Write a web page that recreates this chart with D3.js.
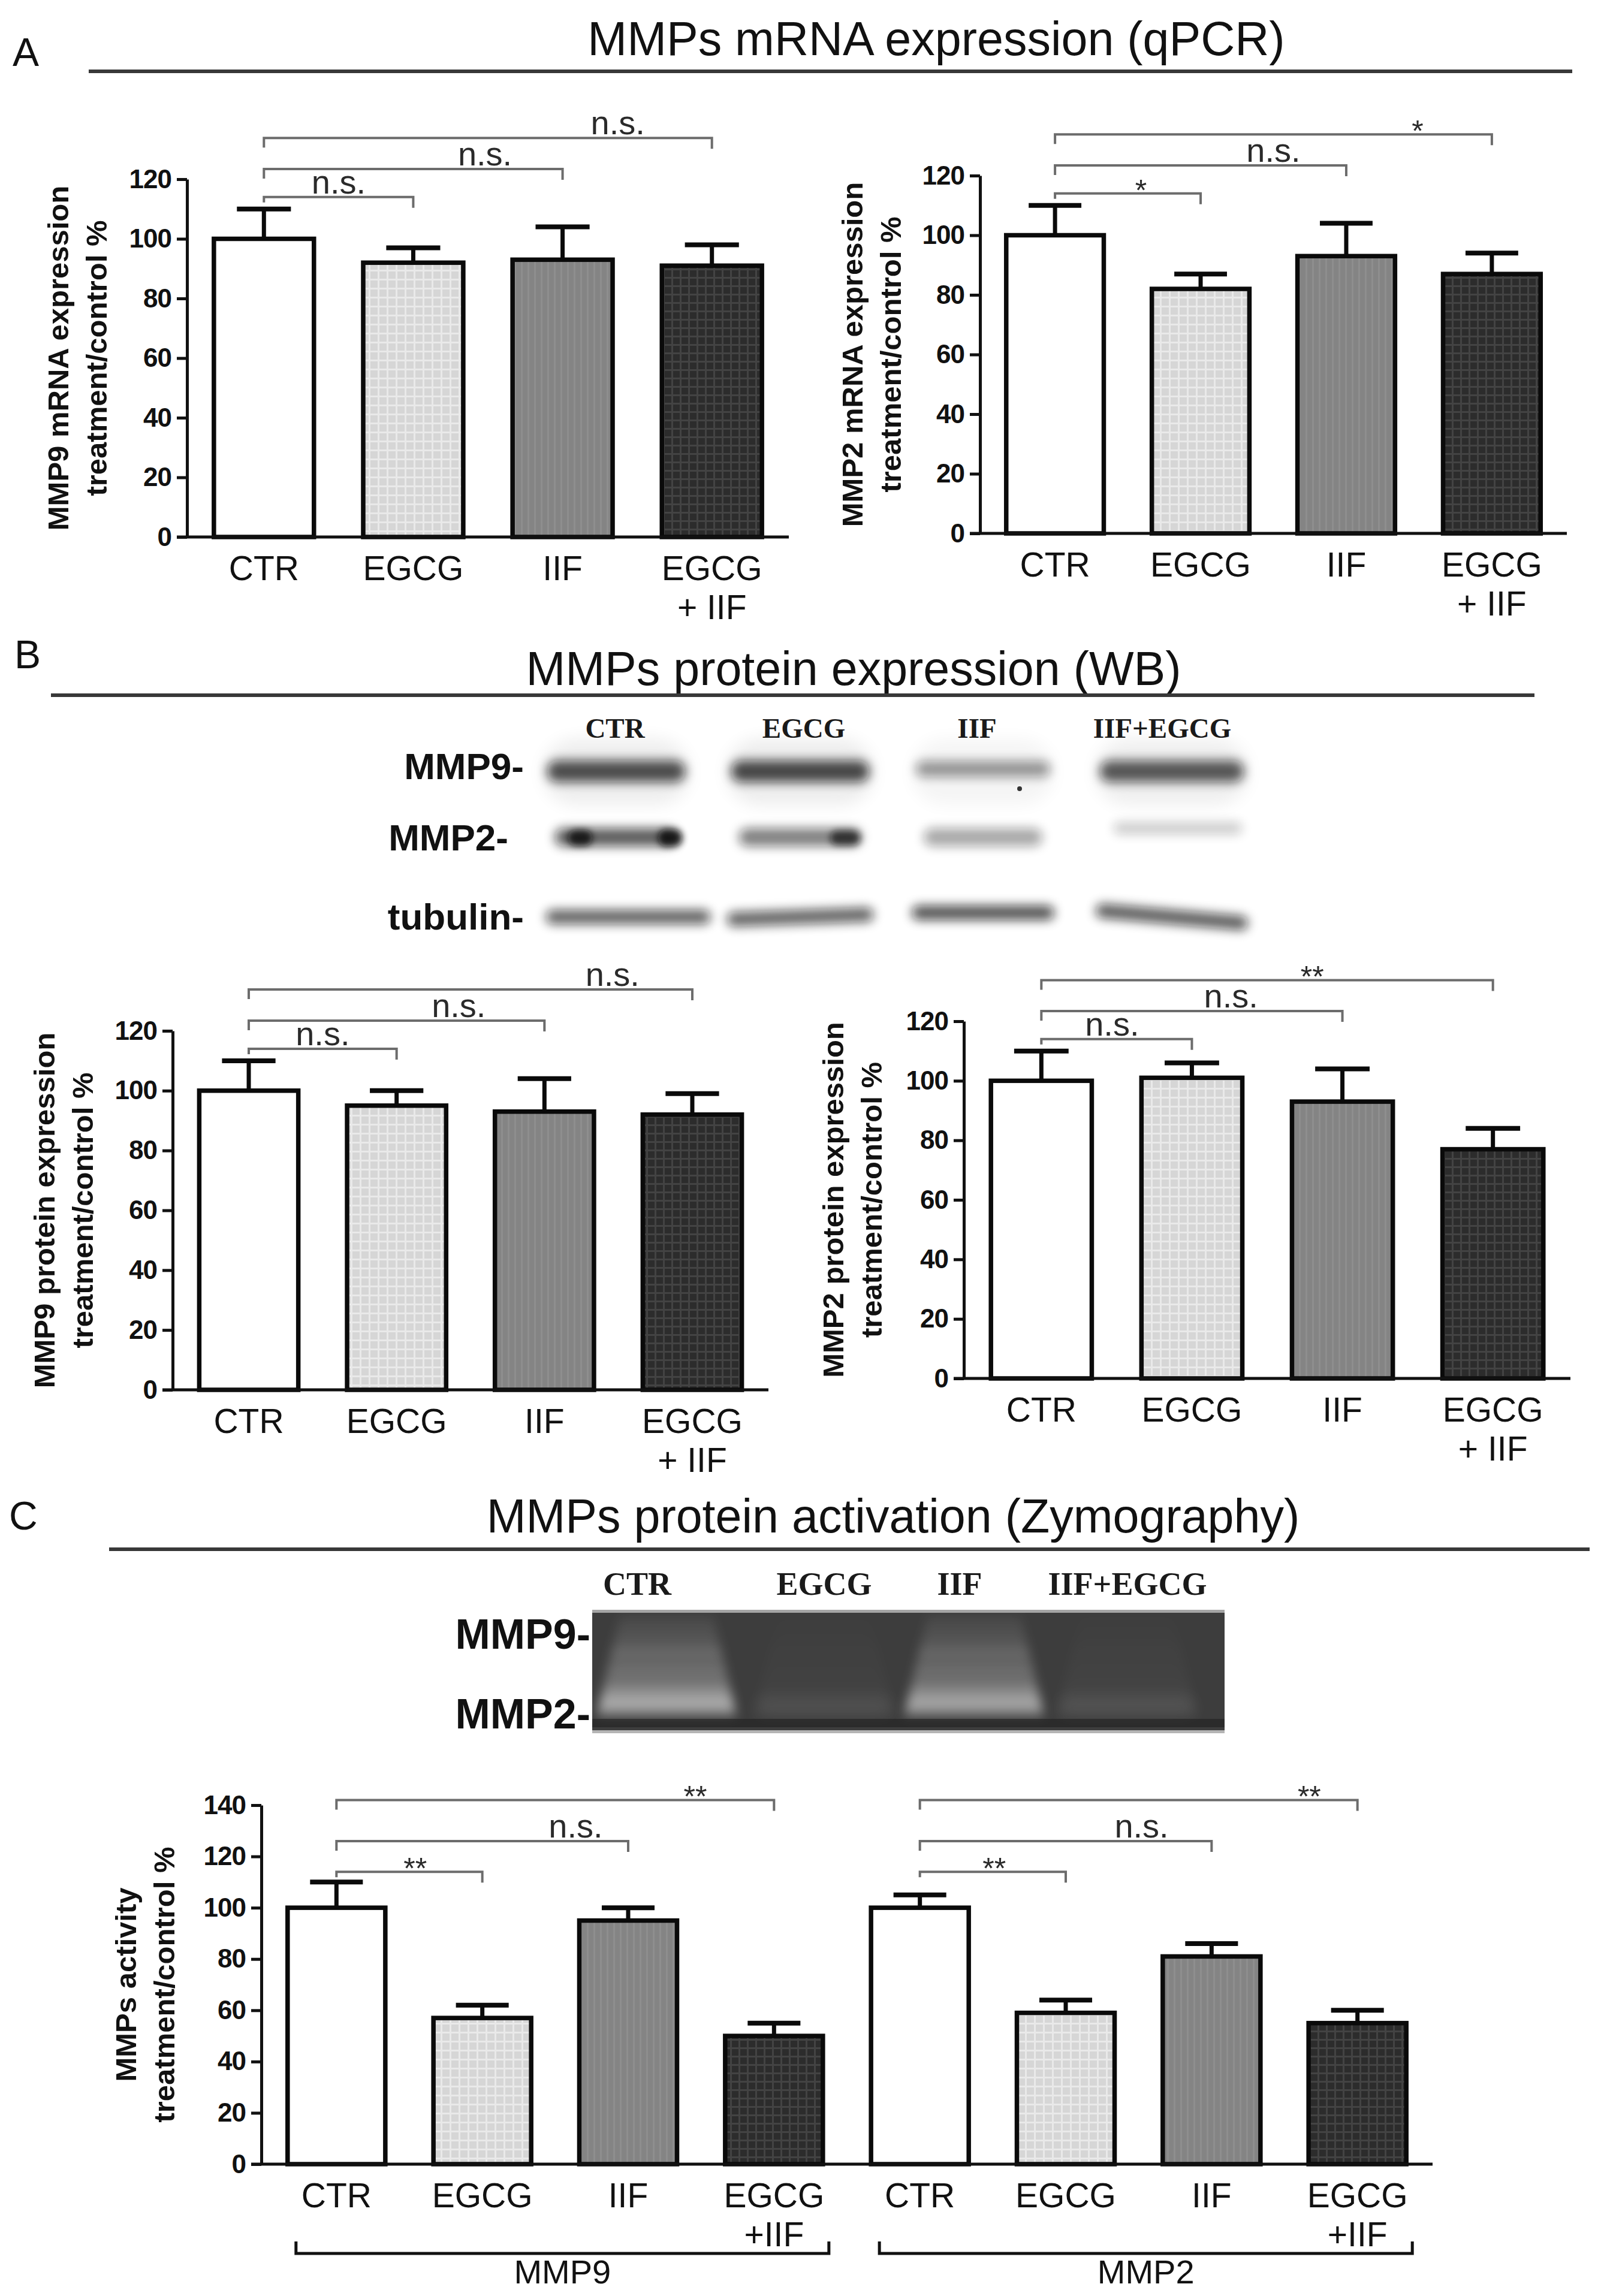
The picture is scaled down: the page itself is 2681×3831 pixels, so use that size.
<!DOCTYPE html>
<html><head><meta charset="utf-8">
<script src="https://cdn.jsdelivr.net/npm/d3@7"></script>
<style>html,body{margin:0;padding:0;background:#fff;} svg{display:block;}</style>
</head><body>
<script>
// ---------------- DATA ----------------
const categories = ["CTR", "EGCG", "IIF", "EGCG+IIF"];
const xLabelsAB = [["CTR"], ["EGCG"], ["IIF"], ["EGCG", "+ IIF"]];
const xLabelsC = [["CTR"], ["EGCG"], ["IIF"], ["EGCG", "+IIF"]];
const ticks120 = [0, 20, 40, 60, 80, 100, 120];
const ticks140 = [0, 20, 40, 60, 80, 100, 120, 140];

const mmp9mRNA = [100, 92, 93, 91];
const mmp9mRNAErr = [10, 5, 11, 7];
const mmp2mRNA = [100, 82, 93, 87];
const mmp2mRNAErr = [10, 5, 11, 7];
const mmp9Prot = [100, 95, 93, 92];
const mmp9ProtErr = [10, 5, 11, 7];
const mmp2Prot = [100, 101, 93, 77];
const mmp2ProtErr = [10, 5, 11, 7];
const mmp9Act = [100, 57, 95, 50];
const mmp9ActErr = [10, 5, 5, 5];
const mmp2Act = [100, 59, 81, 55];
const mmp2ActErr = [5, 5, 5, 5];

// significance vs CTR (EGCG, IIF, EGCG+IIF)
const sigA9 = ["n.s.", "n.s.", "n.s."];
const sigA2 = ["*", "n.s.", "*"];
const sigB9 = ["n.s.", "n.s.", "n.s."];
const sigB2 = ["n.s.", "n.s.", "**"];
const sigC9 = ["**", "n.s.", "**"];
const sigC2 = ["**", "n.s.", "**"];
const bracketLevels120 = [114, 123.4, 133.8];
const bracketLevels140 = [114, 126, 142];

const panelTitles = ["MMPs mRNA expression (qPCR)", "MMPs protein expression (WB)", "MMPs protein activation (Zymography)"];
const laneLabels = ["CTR", "EGCG", "IIF", "IIF+EGCG"];
const wbMMP9 = [0.85, 0.88, 0.5, 0.8];
const wbMMP2 = [0.8, 0.62, 0.42, 0.25];
const wbTubulin = [0.72, 0.72, 0.8, 0.75];
const zymoActivity = [0.95, 0.08, 0.9, 0.1];
const groupNames = ["MMP9", "MMP2"];

// ---------------- LAYOUT ----------------
const W = 2681, H = 3831;
const FONT = "'Liberation Sans', Arial, Helvetica, sans-serif";
const SERIF = "'Liberation Serif', 'Times New Roman', serif";
const barFills = ["#ffffff", "url(#pEGCG)", "url(#pIIF)", "url(#pMIX)"];

const svg = d3.select("body").append("svg").attr("width", W).attr("height", H)
  .attr("viewBox", `0 0 ${W} ${H}`).style("background", "#fff");
svg.append("rect").attr("width", W).attr("height", H).attr("fill", "#fff");

const defs = svg.append("defs");
function pattern(id, size, base, line, lw, grid) {
  const p = defs.append("pattern").attr("id", id).attr("patternUnits", "userSpaceOnUse")
    .attr("width", size).attr("height", size);
  p.append("rect").attr("width", size).attr("height", size).attr("fill", base);
  p.append("rect").attr("x", 0).attr("y", 0).attr("width", lw).attr("height", size).attr("fill", line);
  if (grid) p.append("rect").attr("x", 0).attr("y", 0).attr("width", size).attr("height", lw).attr("fill", line);
}
pattern("pEGCG", 15, "#d6d6d6", "#e9e9e9", 3, true);
pattern("pIIF", 11, "#848484", "#8e8e8e", 3, false);
pattern("pMIX", 14, "#2c2c2c", "#434343", 3, true);

function blurFilter(id, sd) {
  defs.append("filter").attr("id", id).attr("x", "-30%").attr("y", "-200%")
    .attr("width", "160%").attr("height", "500%")
    .append("feGaussianBlur").attr("stdDeviation", sd);
}
blurFilter("blur6", 6);
blurFilter("blur9", 9);
blurFilter("blur14", 14);

// ---------------- PANEL HEADERS ----------------
const headers = [
  {letter: "A", lx: 21, ly: 110, title: panelTitles[0], tx: 1562, ty: 92, line: [148, 2623, 119]},
  {letter: "B", lx: 24, ly: 1115, title: panelTitles[1], tx: 1424, ty: 1143, line: [85, 2560, 1160]},
  {letter: "C", lx: 15, ly: 2552, title: panelTitles[2], tx: 1490, ty: 2557, line: [182, 2652, 2585]}
];
headers.forEach(h => {
  svg.append("text").attr("x", h.lx).attr("y", h.ly).text(h.letter)
    .attr("font-family", FONT).attr("font-size", 66).attr("fill", "#111");
  svg.append("text").attr("x", h.tx).attr("y", h.ty).text(h.title).attr("text-anchor", "middle")
    .attr("font-family", FONT).attr("font-size", 79).attr("fill", "#111");
  svg.append("line").attr("x1", h.line[0]).attr("x2", h.line[1]).attr("y1", h.line[2]).attr("y2", h.line[2])
    .attr("stroke", "#383838").attr("stroke-width", 6);
});

// ---------------- BAR CHARTS ----------------
function drawChart(cfg) {
  const g = svg.append("g");
  const n = cfg.values.length;
  const x = d3.scaleBand().domain(d3.range(n)).range([cfg.x0, cfg.x1]).paddingInner(0.33).paddingOuter(0.18);
  const y = d3.scaleLinear().domain([0, cfg.ymax]).range([cfg.y0, cfg.yTop]);
  const bw = x.bandwidth();
  const cx = i => x(i) + bw / 2;

  g.selectAll("rect.bar").data(cfg.values).join("rect").attr("class", "bar")
    .attr("x", (d, i) => x(i)).attr("y", d => y(d))
    .attr("width", bw).attr("height", d => y(0) - y(d))
    .attr("fill", (d, i) => barFills[i % 4]).attr("stroke", "#0a0a0a").attr("stroke-width", 7.5);

  const eg = g.append("g").attr("stroke", "#0a0a0a");
  cfg.values.forEach((v, i) => {
    const top = y(v + cfg.errors[i]);
    eg.append("line").attr("x1", cx(i)).attr("x2", cx(i)).attr("y1", y(v)).attr("y2", top).attr("stroke-width", 7);
    eg.append("line").attr("x1", cx(i) - bw * 0.27).attr("x2", cx(i) + bw * 0.27)
      .attr("y1", top).attr("y2", top).attr("stroke-width", 8);
  });

  const ax = d3.axisLeft(y).tickValues(cfg.ticks).tickSize(17).tickSizeOuter(0).tickPadding(9);
  g.append("g").attr("transform", `translate(${cfg.x0},0)`).call(ax)
    .attr("font-family", FONT).attr("font-size", 44).attr("font-weight", "bold")
    .call(s => {
      s.select(".domain").attr("stroke", "#111").attr("stroke-width", 5);
      s.selectAll(".tick line").attr("stroke", "#111").attr("stroke-width", 5);
      s.selectAll(".tick text").attr("fill", "#111").attr("letter-spacing", -1);
    });
  g.append("line").attr("x1", cfg.x0 - 17).attr("x2", cfg.x1).attr("y1", y(0)).attr("y2", y(0))
    .attr("stroke", "#111").attr("stroke-width", 5);

  cfg.values.forEach((v, i) => {
    const lines = cfg.xLabels[i % 4];
    lines.forEach((s, k) => {
      g.append("text").attr("x", cx(i)).attr("y", y(0) + 72 + k * 65).text(s)
        .attr("text-anchor", "middle").attr("font-family", FONT).attr("font-size", 57).attr("fill", "#111");
    });
  });

  const yc = (y(0) + y(cfg.ymax)) / 2;
  cfg.yLabel.forEach((t, k) => {
    g.append("text").attr("transform", `translate(${cfg.labX[k]},${yc}) rotate(-90)`)
      .attr("dy", "0.36em").attr("text-anchor", "middle").text(t)
      .attr("font-family", FONT).attr("font-size", 49).attr("font-weight", "bold").attr("fill", "#111");
  });

  cfg.brackets.forEach((b, j) => {
    const xl = cx(b.from), xr = cx(b.to), yb = y(b.level);
    const legL = j % 3 === 0 ? 9 : 16;
    g.append("path").attr("d", `M${xl},${yb + legL}V${yb}H${xr}V${yb + 18}`)
      .attr("fill", "none").attr("stroke", "#6c6c6c").attr("stroke-width", 4);
    const tx = xl + (xr - xl) * cfg.labelFrac[j];
    const isStar = b.label.indexOf("*") >= 0;
    g.append("text").attr("x", tx).attr("y", isStar ? yb + 12 : yb - 6).text(b.label)
      .attr("text-anchor", "middle").attr("font-family", FONT)
      .attr("font-size", isStar ? 50 : 56).attr("fill", "#2a2a2a");
  });

  return {x, y, bw};
}

function brackets(sig, levels, offset) {
  return sig.map((s, k) => ({from: offset, to: offset + k + 1, level: levels[k], label: s}));
}

drawChart({values: mmp9mRNA, errors: mmp9mRNAErr, x0: 312, x1: 1316, y0: 896, yTop: 299, ymax: 120,
  ticks: ticks120, xLabels: xLabelsAB, yLabel: ["MMP9 mRNA expression", "treatment/control %"], labX: [96, 160],
  brackets: brackets(sigA9, bracketLevels120, 0), labelFrac: [0.5, 0.74, 0.79]});
drawChart({values: mmp2mRNA, errors: mmp2mRNAErr, x0: 1635, x1: 2614, y0: 890, yTop: 293, ymax: 120,
  ticks: ticks120, xLabels: xLabelsAB, yLabel: ["MMP2 mRNA expression", "treatment/control %"], labX: [1421, 1485],
  brackets: brackets(sigA2, bracketLevels120, 0), labelFrac: [0.59, 0.75, 0.83]});
drawChart({values: mmp9Prot, errors: mmp9ProtErr, x0: 288, x1: 1282, y0: 2319, yTop: 1720, ymax: 120,
  ticks: ticks120, xLabels: xLabelsAB, yLabel: ["MMP9 protein expression", "treatment/control %"], labX: [73, 137],
  brackets: brackets(sigB9, bracketLevels120, 0), labelFrac: [0.5, 0.71, 0.82]});
drawChart({values: mmp2Prot, errors: mmp2ProtErr, x0: 1608, x1: 2620, y0: 2300, yTop: 1704, ymax: 120,
  ticks: ticks120, xLabels: xLabelsAB, yLabel: ["MMP2 protein expression", "treatment/control %"], labX: [1389, 1453],
  brackets: brackets(sigB2, bracketLevels120, 0), labelFrac: [0.47, 0.63, 0.6]});
const cChart = drawChart({values: mmp9Act.concat(mmp2Act), errors: mmp9ActErr.concat(mmp2ActErr),
  x0: 436, x1: 2390, y0: 3611, yTop: 3012, ymax: 140,
  ticks: ticks140, xLabels: xLabelsC, yLabel: ["MMPs activity", "treatment/control %"], labX: [209, 273],
  brackets: brackets(sigC9, bracketLevels140, 0).concat(brackets(sigC2, bracketLevels140, 4)),
  labelFrac: [0.54, 0.82, 0.82, 0.51, 0.76, 0.89]});

groupNames.forEach((name, gi) => {
  const xs = cChart.x(gi * 4) + 14, xe = cChart.x(gi * 4 + 3) + cChart.bw + 10, yb = 3760;
  svg.append("path").attr("d", `M${xs},${yb - 20}V${yb}H${xe}V${yb - 20}`)
    .attr("fill", "none").attr("stroke", "#111").attr("stroke-width", 5);
  svg.append("text").attr("x", (xs + xe) / 2).attr("y", 3810).text(name).attr("text-anchor", "middle")
    .attr("font-family", FONT).attr("font-size", 56).attr("fill", "#111");
});

// ---------------- WESTERN BLOT (B) ----------------
const wb = svg.append("g");
const wbCenters = [1028, 1335, 1640, 1955];
const wbWidths = [245, 245, 238, 255];
const wbLabelX = [1026, 1341, 1630, 1939];
laneLabels.forEach((t, i) => {
  wb.append("text").attr("x", wbLabelX[i]).attr("y", 1231).text(t).attr("text-anchor", "middle")
    .attr("font-family", SERIF).attr("font-weight", "bold").attr("font-size", 47).attr("fill", "#1a1a1a");
});
[["MMP9-", 874, 1300], ["MMP2-", 848, 1419], ["tubulin-", 874, 1551]].forEach(d => {
  wb.append("text").attr("x", d[1]).attr("y", d[2]).text(d[0]).attr("text-anchor", "end")
    .attr("font-family", FONT).attr("font-weight", "bold").attr("font-size", 62).attr("fill", "#111");
});
function band(g, cxp, cy, w, h, op, filt, angle) {
  g.append("rect").attr("x", cxp - w / 2).attr("y", cy - h / 2).attr("width", w).attr("height", h)
    .attr("rx", h / 2).attr("fill", "#111").attr("opacity", op).attr("filter", `url(#${filt})`)
    .attr("transform", angle ? `rotate(${angle},${cxp},${cy})` : null);
}
wbMMP9.forEach((v, i) => {
  band(wb, wbCenters[i], 1288, wbWidths[i], 110, v * 0.08, "blur14");
  band(wb, wbCenters[i], i === 2 ? 1283 : 1287, wbWidths[i] - 14, i === 2 ? 26 : 36, v * 0.85, "blur9");
});
wb.append("circle").attr("cx", 1701).attr("cy", 1316).attr("r", 4).attr("fill", "#333");
wbMMP2.forEach((v, i) => {
  const cy = i === 3 ? 1382 : 1397;
  band(wb, wbCenters[i] + (i === 3 ? 10 : 0), cy, wbWidths[i] - 40, i === 3 ? 20 : 30, v * 0.85, "blur9");
});
band(wb, 968, 1398, 40, 26, 0.85, "blur6");
band(wb, 1118, 1398, 40, 28, 0.9, "blur6");
band(wb, 1410, 1398, 50, 24, 0.7, "blur6");
wbTubulin.forEach((v, i) => {
  band(wb, wbCenters[i] + (i === 0 ? 20 : 0), i === 2 ? 1523 : 1530, wbWidths[i] + (i === 0 ? 30 : 0), 24, v * 0.9, "blur9", i === 3 ? 5 : (i === 1 ? -2 : 0));
});

// ---------------- ZYMOGRAPHY (C) ----------------
const zy = svg.append("g");
const zyLabelX = [1063, 1375, 1601, 1881];
laneLabels.forEach((t, i) => {
  zy.append("text").attr("x", zyLabelX[i]).attr("y", 2661).text(t).attr("text-anchor", "middle")
    .attr("font-family", SERIF).attr("font-weight", "bold").attr("font-size", 54).attr("fill", "#1a1a1a");
});
[["MMP9-", 2751], ["MMP2-", 2884]].forEach(d => {
  zy.append("text").attr("x", 985).attr("y", d[1]).text(d[0]).attr("text-anchor", "end")
    .attr("font-family", FONT).attr("font-weight", "bold").attr("font-size", 70).attr("fill", "#111");
});
const gel = {x: 988, y: 2686, w: 1055, h: 206};
zy.append("rect").attr("x", gel.x).attr("y", gel.y).attr("width", gel.w).attr("height", gel.h).attr("fill", "#3d3d3d");
const lg = defs.append("linearGradient").attr("id", "laneGrad").attr("x1", 0).attr("y1", 0).attr("x2", 0).attr("y2", 1);
[[0, 0.06], [0.25, 0.14], [0.38, 0.26], [0.45, 0.18], [0.52, 0.3], [0.6, 0.24], [0.7, 0.38], [0.8, 0.55], [0.88, 0.62], [0.94, 0.35], [1, 0.08]]
  .forEach(s => lg.append("stop").attr("offset", s[0]).attr("stop-color", "#fff").attr("stop-opacity", s[1]));
const zyCenters = [1112, 1375, 1625, 1880];
zymoActivity.forEach((v, i) => {
  const c = zyCenters[i], t = gel.y + 10, b = gel.y + 182;
  zy.append("path").attr("d", `M${c - 78},${t}L${c + 78},${t}L${c + 118},${b}L${c - 118},${b}Z`)
    .attr("fill", "url(#laneGrad)").attr("opacity", v).attr("filter", "url(#blur9)");
});
[1375, 1880].forEach(c => {
  zy.append("rect").attr("x", c - 110).attr("y", gel.y + 150).attr("width", 220).attr("height", 28)
    .attr("fill", "#fff").attr("opacity", 0.07).attr("filter", "url(#blur14)");
});
zy.append("rect").attr("x", gel.x).attr("y", gel.y + 182).attr("width", gel.w).attr("height", 14).attr("fill", "#1f1f1f").attr("opacity", 0.6);
zy.append("rect").attr("x", gel.x).attr("y", gel.y).attr("width", gel.w).attr("height", 5).attr("fill", "#a5a5a5");
zy.append("rect").attr("x", gel.x).attr("y", gel.y + gel.h - 5).attr("width", gel.w).attr("height", 5).attr("fill", "#b5b5b5");
</script>
</body></html>
